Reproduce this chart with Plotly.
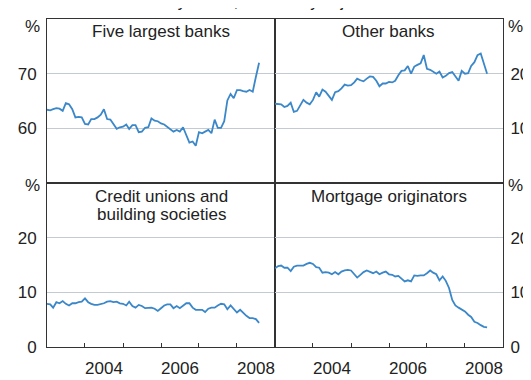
import plotly.graph_objects as go
from plotly.subplots import make_subplots
import pandas as pd

# monthly, Jan 2003 - Aug 2008
months = pd.date_range("2003-01-01", "2008-08-01", freq="MS")

five_largest = [63.4, 63.3, 63.5, 63.7, 63.6, 63.2, 64.6, 64.4, 63.5, 62.0, 62.1, 62.0,
                60.8, 60.7, 61.7, 61.7, 62.0, 62.5, 63.5, 61.7, 61.6, 60.8, 59.9, 60.2,
                60.3, 60.7, 59.9, 60.6, 60.6, 59.3, 59.4, 60.1, 60.2, 61.8, 61.4, 61.3,
                60.9, 60.7, 60.3, 59.9, 59.4, 59.7, 59.4, 60.2, 58.9, 57.4, 57.6, 56.8,
                59.3, 59.1, 59.4, 59.7, 59.1, 61.6, 60.1, 60.1, 61.3, 65.1, 66.3, 65.5,
                67.0, 67.0, 66.8, 66.7, 67.0, 66.7, 69.4, 72.0]

other_banks = [14.5, 14.4, 14.4, 13.9, 14.1, 14.7, 13.0, 13.2, 14.1, 15.2, 14.7, 14.4,
               15.2, 16.6, 15.8, 17.1, 16.7, 16.0, 15.2, 16.6, 16.8, 17.3, 18.0, 17.8,
               17.9, 18.4, 19.1, 18.8, 18.6, 19.1, 19.5, 19.4, 18.7, 17.7, 18.2, 18.2,
               18.5, 18.4, 18.7, 19.7, 20.5, 20.6, 21.4, 20.0, 21.3, 21.6, 21.9, 23.4,
               20.9, 20.7, 20.4, 20.0, 20.4, 19.3, 19.6, 20.1, 20.3, 19.6, 18.7, 20.5,
               20.0, 20.1, 21.4, 22.1, 23.4, 23.7, 21.7, 20.0]

credit_unions = [7.9, 7.8, 7.2, 8.2, 8.0, 8.4, 7.9, 7.6, 8.0, 8.0, 8.2, 8.3,
                 8.9, 8.2, 7.9, 7.7, 7.7, 7.8, 8.0, 8.3, 8.4, 8.2, 8.3, 8.0,
                 7.9, 7.6, 8.3, 7.5, 7.2, 7.7, 7.5, 7.1, 7.2, 7.2, 7.0, 6.6,
                 7.1, 7.6, 7.8, 7.8, 7.1, 7.5, 7.1, 7.5, 8.0, 8.0, 7.2, 6.8,
                 6.8, 6.8, 6.4, 7.0, 7.2, 7.2, 7.6, 7.9, 7.8, 6.9, 7.6, 7.0,
                 6.3, 6.8, 6.2, 5.7, 5.3, 5.3, 5.1, 4.4]

mortgage_orig = [14.4, 14.8, 14.9, 14.5, 14.5, 13.9, 14.7, 14.9, 14.9, 14.9, 15.2, 15.4,
                 15.2, 14.6, 14.5, 13.6, 13.7, 13.6, 13.3, 13.7, 13.3, 13.8, 14.0, 14.1,
                 14.0, 13.3, 12.7, 13.2, 13.7, 14.0, 13.8, 13.5, 13.8, 13.3, 13.6, 13.8,
                 13.3, 13.2, 12.9, 13.0, 12.5, 12.0, 12.2, 12.0, 13.1, 13.0, 13.1, 13.1,
                 13.5, 14.0, 13.6, 13.3, 12.2, 12.9, 12.1, 10.8, 8.6, 7.6, 7.2, 6.9,
                 6.5, 5.9, 5.5, 4.6, 4.4, 4.0, 3.7, 3.6]

panel_titles = ["Five largest banks", "Other banks",
                "Credit unions and<br>building societies", "Mortgage originators"]
year_labels = ["2004", "2006", "2008"]

BLUE = "#3a87c9"
INK = "#222222"
GRID = "#c3cad2"
FONT = "Arial, Liberation Sans, sans-serif"
FS = 17

fig = make_subplots(rows=2, cols=2, horizontal_spacing=0, vertical_spacing=0)

series = [(five_largest, 1, 1), (other_banks, 1, 2), (credit_unions, 2, 1), (mortgage_orig, 2, 2)]
for vals, r, c in series:
    fig.add_trace(go.Scatter(x=months, y=vals, mode="lines",
                             line=dict(color=BLUE, width=1.8), showlegend=False), row=r, col=c)

xrange = ["2003-01-01", "2009-01-01"]
year_starts = ["2004-01-01", "2005-01-01", "2006-01-01", "2007-01-01", "2008-01-01"]
mid_years = [y + "-07-02" for y in year_labels]

for r in (1, 2):
    for c in (1, 2):
        xa = dict(range=xrange, showline=True, mirror=True, linecolor="#333", linewidth=1,
                  showgrid=False, zeroline=False)
        if r == 2:
            xa.update(tickmode="array", tickvals=mid_years, ticktext=year_labels, ticks="",
                      ticklabelstandoff=6,
                      tickfont=dict(size=FS, color=INK, family=FONT),
                      minor=dict(tickmode="array", tickvals=year_starts, ticks="inside",
                                 ticklen=4, tickcolor="#333", showgrid=False))
        else:
            xa.update(showticklabels=False, ticks="")
        fig.update_xaxes(row=r, col=c, **xa)

ybase = dict(showline=True, mirror=True, linecolor="#333", linewidth=1, showgrid=True,
             gridcolor=GRID, gridwidth=1, zeroline=False, ticks="",
             tickfont=dict(size=FS, color=INK, family=FONT))
fig.update_yaxes(row=1, col=1, range=[50, 80], tickvals=[60, 70], ticklabelstandoff=6, **ybase)
fig.update_yaxes(row=1, col=2, range=[0, 30], tickvals=[10, 20], side="right", ticklabelstandoff=3, **ybase)
fig.update_yaxes(row=2, col=1, range=[0, 30], tickvals=[0, 10, 20], ticklabelstandoff=6, **ybase)
fig.update_yaxes(row=2, col=2, range=[0, 30], tickvals=[0, 10, 20], side="right", ticklabelstandoff=3, **ybase)

# panel titles, one annotation per line
title_pos = [(0.251, [0.9626]), (0.749, [0.9626]), (0.251, [0.459, 0.403]), (0.749, [0.459])]
for txt, (px, rows) in zip(panel_titles, title_pos):
    for line, py in zip(txt.split("<br>"), rows):
        fig.add_annotation(text=line, x=px, y=py, xref="paper", yref="paper", showarrow=False,
                           xanchor="center", yanchor="middle",
                           font=dict(size=FS, color=INK, family=FONT))

# unit labels
for px in (-0.031, 1.0285):
    for py in (0.977, 0.491):
        fig.add_annotation(text="%", x=px, y=py, xref="paper", yref="paper", showarrow=False,
                           xanchor="center", yanchor="middle",
                           font=dict(size=FS, color=INK, family=FONT))

# subtitle, mostly cut off by the top edge
fig.add_annotation(text="By lender, seasonally adjusted", x=0.5, y=1.053, xref="paper", yref="paper",
                   showarrow=False, xanchor="center", yanchor="middle",
                   font=dict(size=16, color=INK, family=FONT))

fig.update_layout(width=531, height=380, margin=dict(l=33, r=24, t=10, b=22),
                  plot_bgcolor="white", paper_bgcolor="white",
                  font=dict(family=FONT, color=INK))

fig.write_html("out.html")
